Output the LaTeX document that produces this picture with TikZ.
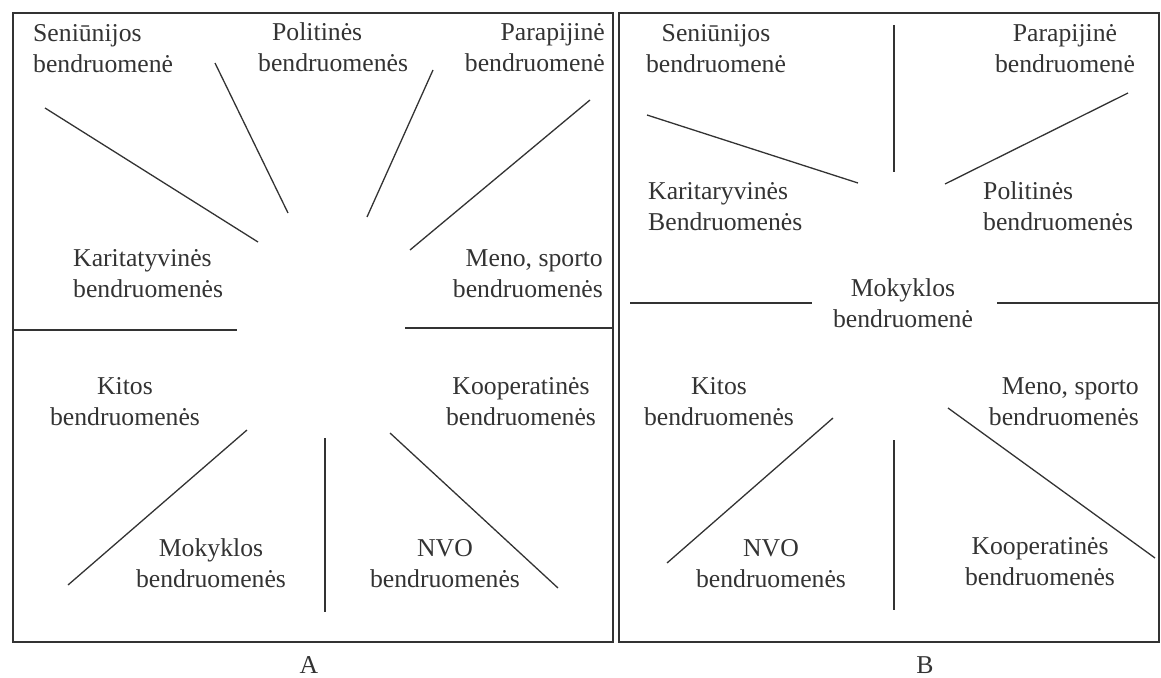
\documentclass[tikz,border=0pt]{standalone}
\usepackage{fontspec}
\setmainfont{Liberation Serif}
\definecolor{ink}{HTML}{333333}
\newcommand{\lab}[3]{\begin{tabular}[b]{@{}#1@{}}#2\\#3\end{tabular}}
\tikzset{
  lbl/.style={inner sep=0pt, text=ink, font=\fontsize{25.7}{31}\selectfont},
  ln/.style={draw=ink, line width=1.3pt},
  frame/.style={draw=ink, line width=1.3pt}
}
\begin{document}
\begin{tikzpicture}[x=1pt,y=-1pt]
\useasboundingbox (0,0) rectangle (1161,677);
% ---------- Box A ----------
\draw[frame] (13,13) rectangle (613,642);
\node[lbl,anchor=base west] (aSen) at (33,72) {\lab{l}{Seniūnijos}{bendruomenė}};
\node[lbl,anchor=base west] (aPol) at (258,71) {\lab{l}{\hspace*{14pt}Politinės}{bendruomenės}};
\node[lbl,anchor=base east] (aPar) at (605,71) {\lab{r}{Parapijinė}{bendruomenė}};
\node[lbl,anchor=base west] (aKar) at (73,297) {\lab{l}{Karitatyvinės}{bendruomenės}};
\node[lbl,anchor=base east] (aMen) at (603,297) {\lab{r}{Meno, sporto}{bendruomenės}};
\node[lbl,anchor=base] (aKit) at (125,425) {\lab{c}{Kitos}{bendruomenės}};
\node[lbl,anchor=base] (aKoo) at (521,425) {\lab{c}{Kooperatinės}{bendruomenės}};
\node[lbl,anchor=base] (aMok) at (211,587) {\lab{c}{Mokyklos}{bendruomenės}};
\node[lbl,anchor=base] (aNVO) at (445,587) {\lab{c}{NVO}{bendruomenės}};
\node[lbl,anchor=base] (labA) at (309,673) {A};
\coordinate (a1s) at (45,108);  \coordinate (a1e) at (258,242);
\coordinate (a2s) at (215,63);  \coordinate (a2e) at (288,213);
\coordinate (a3s) at (433,70);  \coordinate (a3e) at (367,217);
\coordinate (a4s) at (590,100); \coordinate (a4e) at (410,250);
\coordinate (a5s) at (13,330);  \coordinate (a5e) at (237,330);
\coordinate (a6s) at (405,328); \coordinate (a6e) at (613,328);
\coordinate (a7s) at (247,430); \coordinate (a7e) at (68,585);
\coordinate (a8s) at (325,438); \coordinate (a8e) at (325,612);
\coordinate (a9s) at (390,433); \coordinate (a9e) at (558,588);
\foreach \i in {1,...,9} {\draw[ln] (a\i s) -- (a\i e);}
% ---------- Box B ----------
\draw[frame] (619,13) rectangle (1159,642);
\node[lbl,anchor=base] (bSen) at (716,72) {\lab{c}{Seniūnijos}{bendruomenė}};
\node[lbl,anchor=base] (bPar) at (1065,72) {\lab{c}{Parapijinė}{bendruomenė}};
\node[lbl,anchor=base west] (bKar) at (648,230) {\lab{l}{Karitaryvinės}{Bendruomenės}};
\node[lbl,anchor=base west] (bPol) at (983,230) {\lab{l}{Politinės}{bendruomenės}};
\node[lbl,anchor=base] (bMok) at (903,327) {\lab{c}{Mokyklos}{bendruomenė}};
\node[lbl,anchor=base] (bKit) at (719,425) {\lab{c}{Kitos}{bendruomenės}};
\node[lbl,anchor=base east] (bMen) at (1139,425) {\lab{r}{Meno, sporto}{bendruomenės}};
\node[lbl,anchor=base] (bNVO) at (771,587) {\lab{c}{NVO}{bendruomenės}};
\node[lbl,anchor=base] (bKoo) at (1040,585) {\lab{c}{Kooperatinės}{bendruomenės}};
\node[lbl,anchor=base] (labB) at (925,673) {B};
\coordinate (b1s) at (647,115);  \coordinate (b1e) at (858,183);
\coordinate (b2s) at (894,25);   \coordinate (b2e) at (894,172);
\coordinate (b3s) at (1128,93);  \coordinate (b3e) at (945,184);
\coordinate (b4s) at (630,303);  \coordinate (b4e) at (812,303);
\coordinate (b5s) at (997,303);  \coordinate (b5e) at (1159,303);
\coordinate (b6s) at (833,418);  \coordinate (b6e) at (667,563);
\coordinate (b7s) at (894,440);  \coordinate (b7e) at (894,610);
\coordinate (b8s) at (948,408);  \coordinate (b8e) at (1155,558);
\foreach \i in {1,...,8} {\draw[ln] (b\i s) -- (b\i e);}
\end{tikzpicture}
\end{document}
